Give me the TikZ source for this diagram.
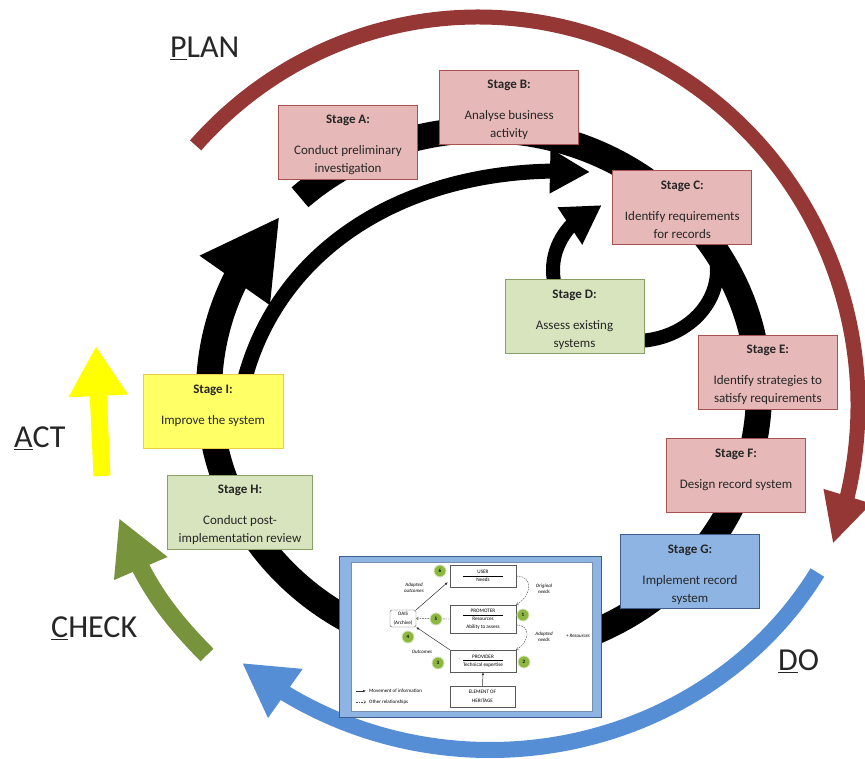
\documentclass[tikz,border=0pt]{standalone}
\usepackage{fontspec}
\setmainfont{Carlito}
\usetikzlibrary{arrows.meta,bending}
\definecolor{planred}{HTML}{953735}
\definecolor{doblue}{HTML}{558ED5}
\definecolor{checkgreen}{HTML}{77933C}
\definecolor{actyellow}{HTML}{FFFF00}
\definecolor{pinkfill}{HTML}{E6B9B8}
\definecolor{pinkline}{HTML}{A9514E}
\definecolor{greenfill}{HTML}{D7E4BD}
\definecolor{greenline}{HTML}{8A9E68}
\definecolor{bluefill}{HTML}{8EB4E3}
\definecolor{blueline}{HTML}{3E5E8C}
\definecolor{yellowfill}{HTML}{FFFF66}
\definecolor{yellowline}{HTML}{E8CF4A}
\definecolor{numgreen}{HTML}{8DB83F}
\definecolor{numring}{HTML}{D7E4BD}
\newcommand{\stagetitle}[1]{\rule{0pt}{14pt}\textbf{Stage #1:}\\[13pt]}
\begin{document}
\begin{tikzpicture}[x=1pt,y=1pt,
  stage/.style={rectangle, minimum width=139pt, minimum height=74pt, inner sep=0pt,
    align=center, line width=0.8pt, text=black!85, font=\fontsize{13}{18}\selectfont},
  planbox/.style={stage, fill=pinkfill, draw=pinkline},
  checkbox/.style={stage, fill=greenfill, draw=greenline},
  dobox/.style={stage, fill=bluefill, draw=blueline},
  actbox/.style={stage, fill=yellowfill, draw=yellowline},
  phase/.style={inner sep=0pt, text=black!85, font=\fontsize{32}{36}\selectfont},
  ibox/.style={draw=black!65, line width=0.4pt, fill=white, inner sep=0pt, align=center,
    font=\fontsize{5.2}{6}\selectfont},
  num/.style={circle, fill=numgreen, draw=numring, line width=0.8pt, minimum size=12pt,
    inner sep=0pt, font=\fontsize{5}{5}\selectfont\bfseries},
  lbl/.style={inner sep=0pt, align=center, font=\fontsize{5}{5.5}\selectfont\itshape},
  iarrow/.style={line width=0.5pt, black!80, -{Latex[length=3pt,width=2.5pt]}},
  idash/.style={line width=0.4pt, black!70, dash pattern=on 1.6pt off 1pt,
    -{Straight Barb[length=2pt,width=3pt]}}]
\useasboundingbox (0,0) rectangle (865,758);

% PDCA arcs
\coordinate (pc) at (478,353);
\coordinate (dc) at (490,363);
\draw[planred, line width=15pt, -{Triangle[length=50pt,width=46pt]}]
  ([shift={(138:380pt and 388pt)}]pc) arc[start angle=138, end angle=-21, x radius=380pt, y radius=388pt];
\draw[doblue, line width=16pt, -{Triangle[length=53pt,width=56pt]}]
  ([shift={(-30:378pt and 355pt)}]dc) arc[start angle=-30, end angle=-131, x radius=378pt, y radius=355pt];
\draw[actyellow, line width=17pt, -{Triangle[length=50pt,width=56pt]}] (102,282) -- (96,412);
\draw[checkgreen, line width=18pt, -{Triangle[length=55pt,width=54pt]}] (207,103) to[bend left=12] (119,240);

\node[phase, anchor=base west] (plan) at (170,700) {\underline{P}LAN};
\node[phase, anchor=base west] (act) at (14,310) {\underline{A}CT};
\node[phase, anchor=base west] (check) at (51,120) {\underline{C}HECK};
\node[phase, anchor=base west] (do) at (778,87) {\underline{D}O};

% stage cycle
\coordinate (ctr) at (484,366);
\coordinate (lc) at (635,488);
\draw[line width=26pt, -{Triangle[length=78pt,width=80pt]}]
  ([shift={(132:275pt and 262pt)}]ctr) arc[start angle=132, end angle=-222, x radius=275pt, y radius=262pt];
\draw[line width=14pt, -{Triangle[length=38pt,width=42pt]}]
  ([shift={(200:82pt and 71pt)}]lc) arc[start angle=200, end angle=114, x radius=82pt, y radius=71pt];
\draw[line width=14pt]
  ([shift={(60:82pt and 71pt)}]lc) arc[start angle=60, end angle=-100, x radius=82pt, y radius=71pt];
\draw[line width=15pt, -{Triangle[length=40pt,width=42pt]}] (236,328) .. controls (250,498) and (400,598) .. (590,586);

\node[planbox] (sA) at (348,615.4) {\stagetitle{A}Conduct preliminary\\investigation};
\node[planbox] (sB) at (509.1,650.9) {\stagetitle{B}Analyse business\\activity};
\node[planbox] (sC) at (682.3,550.6) {\stagetitle{C}Identify requirements\\for records};
\node[checkbox] (sD) at (574.5,441.3) {\stagetitle{D}Assess existing\\systems};
\node[planbox] (sE) at (767.8,385.5) {\stagetitle{E}Identify strategies to\\satisfy requirements};
\node[planbox] (sF) at (736,282.7) {\stagetitle{F}Design record system\\\mbox{}};
\node[dobox] (sG) at (690,186.1) {\stagetitle{G}Implement record\\system};
\node[checkbox, minimum width=145pt] (sH) at (240,246) {\stagetitle{H}Conduct post-\\implementation review};
\node[actbox, minimum width=140pt] (sI) at (213,346.8) {\stagetitle{I}Improve the system\\\mbox{}};

% embedded model
\node[fill=bluefill, draw=blueline, line width=0.6pt, minimum width=262pt, minimum height=161pt] (frame) at (470,121.5) {};
\node[fill=white, draw=blueline!70, line width=0.4pt, minimum width=241pt, minimum height=149pt] (pane) at (471.5,121.5) {};

\node[ibox, minimum width=66pt, minimum height=22pt] (user) at (483,182)
  {USER\\[-3.5pt]\rule{40pt}{0.3pt}\\[-0.5pt]Needs};
\node[ibox, minimum width=66pt, minimum height=28pt] (promoter) at (483,139)
  {PROMOTER\\[-3.5pt]\rule{40pt}{0.3pt}\\[-0.5pt]Resources\\[1.5pt]Ability to assess};
\node[ibox, minimum width=66pt, minimum height=22pt] (provider) at (483,97)
  {PROVIDER\\[-3.5pt]\rule{40pt}{0.3pt}\\[-0.5pt]Technical expertise};
\node[ibox, minimum width=65pt, minimum height=21pt] (element) at (482.5,61.5)
  {ELEMENT OF\\[3pt]HERITAGE};
\node[ibox, rounded corners=2pt, minimum width=26pt, minimum height=17pt] (oais) at (403,139.5)
  {OAIS\\[3pt](Archive)};

\draw[iarrow] (oais.north east) -- ([xshift=-2pt,yshift=5pt]user.south west);
\draw[iarrow] (provider.north west) -- (oais.south east);
\draw[iarrow] (element.north) -- (provider.south);
\draw[idash] (promoter.west) -- (oais.east);
\draw[idash] (user.east) to[out=0, in=30, looseness=1.6] (promoter.north east);
\draw[idash] ([yshift=-6pt]promoter.east) to[out=0, in=30, looseness=1.6] (provider.north east);

\node[num] (n6) at (440,187) {6};
\node[num] (n1) at (523,143) {1};
\node[num] (n5) at (436,139) {5};
\node[num] (n4) at (408,121) {4};
\node[num] (n3) at (438,95) {3};
\node[num] (n2) at (524,96) {2};

\node[lbl] (l1) at (414,170) {Adopted\\outcomes};
\node[lbl] (l2) at (544,169) {Original\\needs};
\node[lbl] (l3) at (422,106) {Outcomes};
\node[lbl] (l4) at (544,121) {Adopted\\needs};
\node[lbl] (l5) at (578,122) {+ Resources};

\node[lbl, font=\fontsize{5}{5.5}\selectfont, anchor=west] (lg1) at (369,67) {Movement of information};
\node[lbl, font=\fontsize{5}{5.5}\selectfont, anchor=west] (lg2) at (369,56) {Other relationships};
\draw[iarrow] ([xshift=-13pt]lg1.west) -- ([xshift=-3pt]lg1.west);
\draw[idash] ([xshift=-13pt]lg2.west) -- ([xshift=-3pt]lg2.west);
\end{tikzpicture}
\end{document}
